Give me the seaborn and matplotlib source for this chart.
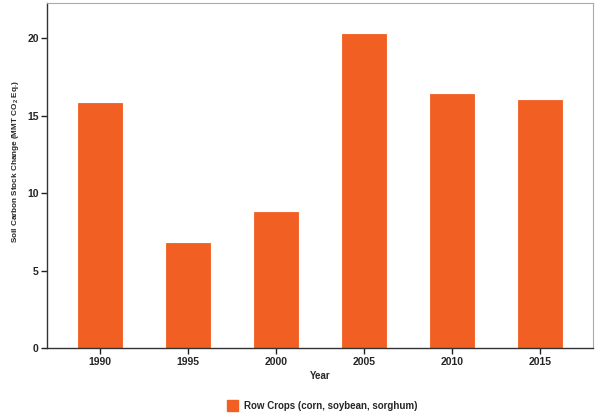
import pandas as pd
import matplotlib
matplotlib.use("Agg")
import matplotlib.pyplot as plt
import seaborn as sns
from matplotlib.patches import Patch

# Data
years = ["1990", "1995", "2000", "2005", "2010", "2015"]
carbon_change = [15.8, 6.8, 8.8, 20.3, 16.4, 16.0]
series_label = "Row Crops (corn, soybean, sorghum)"

df = pd.DataFrame({"Year": years, "Change": carbon_change})

sns.set_style("white")
plt.rcParams["font.family"] = ["Liberation Sans", "DejaVu Sans"]
plt.rcParams["mathtext.fontset"] = "custom"
plt.rcParams["mathtext.rm"] = "Liberation Sans:bold"
plt.rcParams["mathtext.bf"] = "Liberation Sans:bold"
plt.rcParams["mathtext.default"] = "bf"

bar_color = "#F15F22"

fig = plt.figure(figsize=(6, 4.17), dpi=100)
ax = fig.add_axes([0.0783, 0.1647, 0.9097, 0.8281])

sns.barplot(data=df, x="Year", y="Change", color=bar_color, width=0.5,
            saturation=1, edgecolor=bar_color, linewidth=0.6, ax=ax)

ax.set_xlim(-0.6, 5.6)
ax.set_ylim(0, 22.28)
ax.set_yticks([0, 5, 10, 15, 20])

ax.set_xlabel("Year", fontsize=7, fontweight="bold")
ax.xaxis.set_label_coords(0.5, -0.065)
ax.set_ylabel("Soil Carbon Stock Change (MMT CO$_2$ Eq.)", fontsize=5.9,
              fontweight="bold")
ax.yaxis.set_label_coords(-0.047, 0.54)

for lbl in ax.get_xticklabels() + ax.get_yticklabels():
    lbl.set_fontweight("bold")
ax.tick_params(axis="both", which="major", labelsize=7.5, length=4, width=1,
               direction="out", color="#222222", pad=2)
ax.tick_params(axis="x", bottom=True)
ax.tick_params(axis="y", left=True)

for side in ["left", "bottom"]:
    ax.spines[side].set_color("#333333")
    ax.spines[side].set_linewidth(1.0)
for side in ["top", "right"]:
    ax.spines[side].set_color("#aaaaaa")
    ax.spines[side].set_linewidth(0.8)

handles = [Patch(facecolor=bar_color, edgecolor=bar_color, label=series_label)]
fig.legend(handles=handles, loc="center", bbox_to_anchor=(0.537, 0.028),
           frameon=False, prop={"size": 7, "weight": "bold"},
           handlelength=1.1, handleheight=1.3, handletextpad=0.6)

fig.savefig("out.png", dpi=100)
